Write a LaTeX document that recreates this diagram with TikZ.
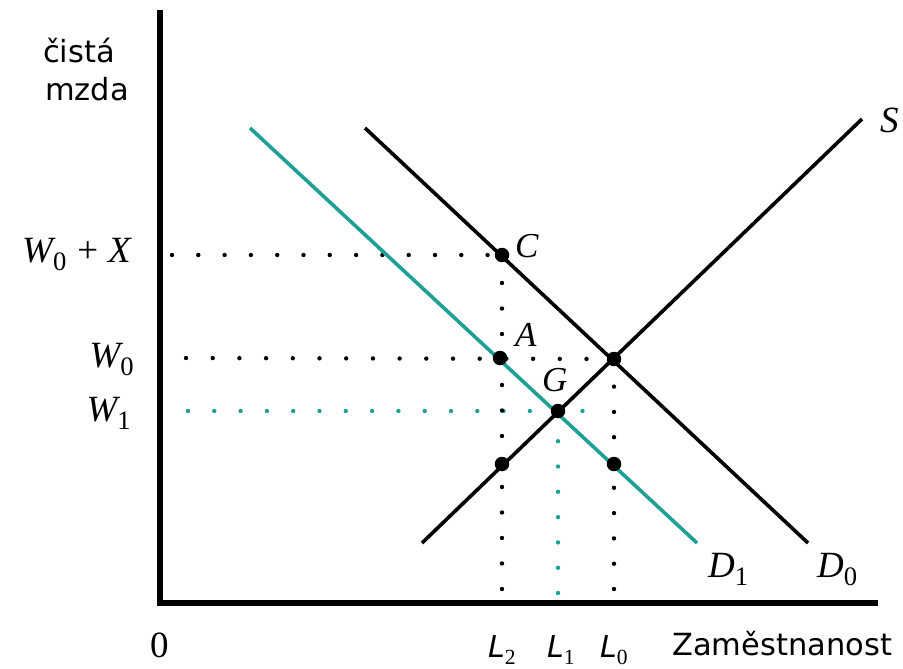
\documentclass[tikz,border=0pt]{standalone}
\usepackage{fontspec}
\newfontfamily\sansf{DejaVu Sans}
\newfontfamily\serif{Liberation Serif}
\newcommand\lsub[1]{\raisebox{-0.24em}{\scalebox{0.72}{\serif\upshape #1}}}
\newcommand\mv[1]{{\serif\itshape #1}}
\definecolor{teal1}{RGB}{30,160,150}
\tikzset{
  axis/.style={line width=5.5pt},
  curve/.style={line width=3.6pt},
  dotline/.style={line width=4.4pt, line cap=round, dash pattern=on 0pt off #1},
  bigdot/.style={circle, fill=black, inner sep=0pt, minimum size=14.5pt},
  mlab/.style={inner sep=0pt, font=\fontsize{37}{42}\selectfont},
  plab/.style={inner sep=0pt, font=\fontsize{35}{40}\selectfont},
  slab/.style={inner sep=0pt, font=\sansf\fontsize{30.5}{37}\selectfont},
  llab/.style={inner sep=0pt, font=\fontsize{30}{35}\selectfont},
}
\begin{document}
\begin{tikzpicture}[x=1pt,y=-1pt]
\useasboundingbox (0,0) rectangle (903,669);
% axes
\coordinate (O) at (160,603);
\coordinate (Ytop) at (160,10);
\coordinate (Xend) at (878,603);
\draw[axis] (Ytop) -- (O) -- (Xend);
% curve endpoints
\coordinate (D0a) at (365,128);
\coordinate (D0b) at (808,543);
\coordinate (D1a) at (250,128);
\coordinate (D1b) at (697,543);
\coordinate (Sa) at (422,543);
\coordinate (Sb) at (862,119);
% points
\coordinate (C) at (502,255);
\coordinate (A) at (500,358);
\coordinate (E) at (614,359);
\coordinate (G) at (558,411);
\coordinate (P2) at (502,464);
\coordinate (P0) at (614,464);
% dotted guide ends
\coordinate (hWX) at (172,255);
\coordinate (hW0) at (186,358);
\coordinate (hW1) at (188,411);
\coordinate (hW1e) at (583,411);
\coordinate (vL2) at (502,589);
\coordinate (vL0) at (614,589);
\coordinate (vL1) at (558,593);
% dotted lines
\draw[dotline=26.3pt] (hWX) -- (C);
\draw[dotline=26.7pt] (hW0) -- (E);
\draw[dotline=26.3pt, teal1] (hW1) -- (hW1e);
\draw[dotline=25.5pt] (vL2) -- (C);
\draw[dotline=25.3pt] (vL0) -- (E);
\draw[dotline=25.3pt, teal1] (vL1) -- (G);
% curves
\draw[curve] (D0a) -- (D0b);
\draw[curve, teal1] (D1a) -- (D1b);
\draw[curve] (Sa) -- (Sb);
% dots
\foreach \p in {C,A,E,G,P2,P0} \node[bigdot] (n\p) at (\p) {};
% labels
\node[slab, anchor=base west] (ylab1) at (43,63) {čistá};
\node[slab, anchor=base west] (ylab2) at (45,100) {mzda};
\node[slab, anchor=base west] (xlab) at (672,655) {Zaměstnanost};
\node[mlab, anchor=base west] (zero) at (150,657) {\serif 0};
\node[mlab, anchor=base east] (lWX) at (131,262) {\mv{W}\lsub{0}\hspace{11pt}\serif+\hspace{10pt}\mv{X}};
\node[mlab, anchor=base east] (lW0) at (134,367) {\mv{W}\lsub{0}};
\node[mlab, anchor=base east] (lW1) at (131,421) {\mv{W}\lsub{1}};
\node[plab, anchor=base west] (lC) at (515,257) {\mv{C}};
\node[plab, anchor=base west] (lA) at (515,346) {\mv{A}};
\node[plab, anchor=base west] (lG) at (542,391) {\mv{G}};
\node[mlab, anchor=base west] (lD1) at (708,577) {\mv{D}\lsub{1}};
\node[mlab, anchor=base west] (lD0) at (817,577) {\mv{D}\lsub{0}};
\node[mlab, anchor=base west] (lS) at (880,132) {\mv{S}};
\node[llab, anchor=base west] (lL2) at (488,657) {{\sansf\itshape L}\lsub{2}};
\node[llab, anchor=base west] (lL1) at (547,657) {{\sansf\itshape L}\lsub{1}};
\node[llab, anchor=base west] (lL0) at (600,657) {{\sansf\itshape L}\lsub{0}};
\end{tikzpicture}
\end{document}
